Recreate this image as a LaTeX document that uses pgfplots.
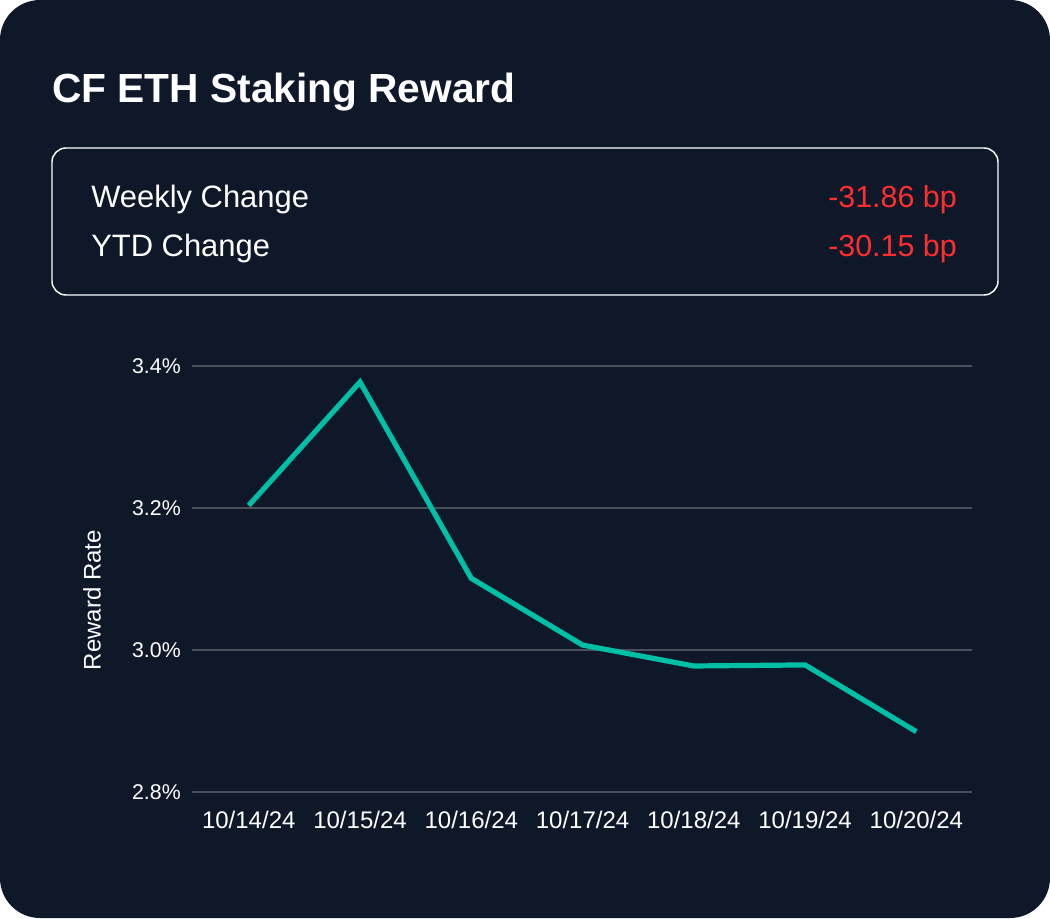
\documentclass[border=0pt]{standalone}
\usepackage{fontspec}
\setmainfont{Liberation Sans}
\usepackage{pgfplots}
\pgfplotsset{compat=1.18}

\definecolor{bgnavy}{HTML}{0F1829}
\definecolor{gridgray}{HTML}{4A4F59}
\definecolor{lineteal}{HTML}{00BFA6}
\definecolor{negred}{HTML}{FF2E2E}

\begin{document}
\begin{tikzpicture}
% card background, 1px = 0.75pt
\fill[white] (0,0) rectangle (787.5pt,-688.5pt);
\fill[bgnavy, rounded corners=30pt] (0,0) rectangle (787.5pt,-688.5pt);

\node[anchor=base west, inner sep=0pt, text=white, font=\fontsize{30.5}{36}\selectfont\bfseries]
  at (39pt,-76.5pt) {CF ETH Staking Reward};

% summary box
\draw[white, line width=1.1pt, rounded corners=10.5pt] (39pt,-111pt) rectangle (748.5pt,-221.25pt);
\node[anchor=base west, inner sep=0pt, text=white, font=\fontsize{23.2}{27}\selectfont]
  at (68.25pt,-155.25pt) {Weekly Change};
\node[anchor=base west, inner sep=0pt, text=white, font=\fontsize{23.2}{27}\selectfont]
  at (68.25pt,-192.5pt) {YTD Change};
\node[anchor=base east, inner sep=0pt, text=negred, font=\fontsize{22.8}{27}\selectfont]
  at (717.75pt,-155.25pt) {-31.86 bp};
\node[anchor=base east, inner sep=0pt, text=negred, font=\fontsize{22.8}{27}\selectfont]
  at (717.75pt,-192.5pt) {-30.15 bp};

\begin{axis}[
    at={(144pt,-594pt)}, anchor=south west,
    scale only axis,
    width=585pt, height=319.5pt,
    xmin=-0.51, xmax=6.5,
    ymin=2.8, ymax=3.4,
    ytick={2.8,3.0,3.2,3.4},
    yticklabel={\pgfmathprintnumber[fixed,fixed zerofill,precision=1]{\tick}\%},
    xtick={0,1,2,3,4,5,6},
    xticklabels={10/14/24,10/15/24,10/16/24,10/17/24,10/18/24,10/19/24,10/20/24},
    axis line style={draw=none},
    major tick length=0pt,
    ymajorgrids,
    grid style={gridgray, line width=1.5pt},
    /pgf/number format/assume math mode=true,
    yticklabel style={anchor=east, inner sep=0pt, xshift=-8.25pt, text=white,
      font=\fontsize{16}{18}\selectfont},
    xticklabel style={anchor=base, inner sep=0pt, yshift=-27pt, text=white,
      font=\fontsize{18}{21}\selectfont},
    ylabel={Reward Rate},
    ylabel style={at={(axis description cs:-0.128,0.4507)}, anchor=center,
      text=white, font=\fontsize{18}{21}\selectfont},
    clip=false,
]
\addplot[lineteal, line width=3.9pt, line join=miter, mark=none] coordinates {
    (0, 3.2036)
    (1, 3.3775)
    (2, 3.1010)
    (3, 3.0070)
    (4, 2.9775)
    (5, 2.9790)
    (6, 2.8850)
};
\end{axis}
\end{tikzpicture}
\end{document}
